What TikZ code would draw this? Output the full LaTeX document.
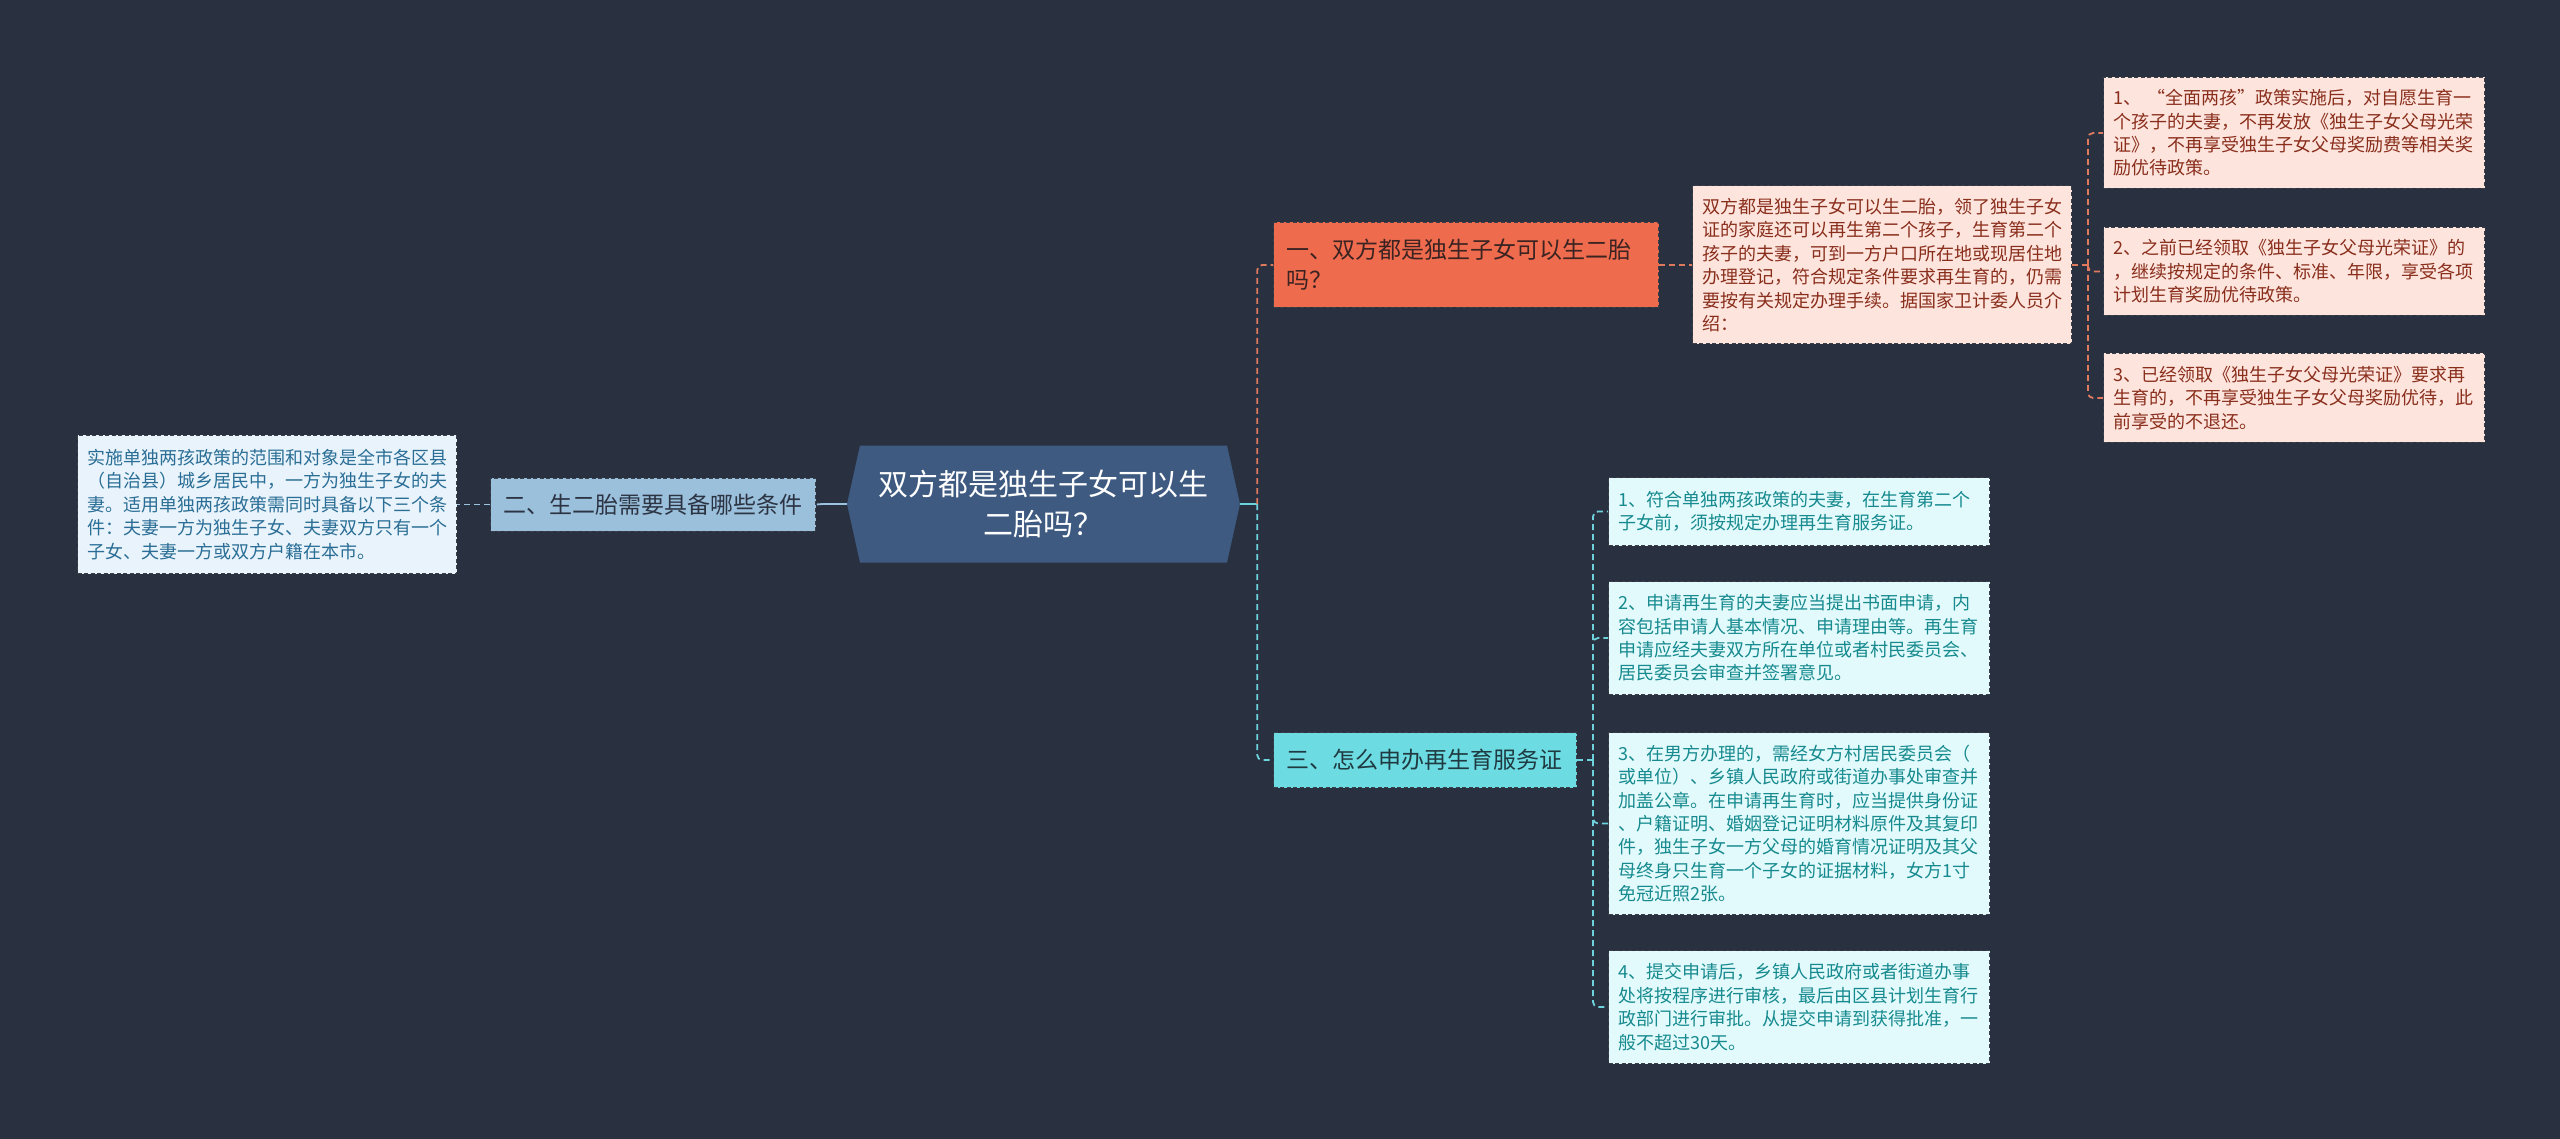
\documentclass[tikz,border=0pt]{standalone}
\usepackage{fontspec}
\setmainfont{Noto Sans CJK SC}
\usetikzlibrary{shapes.symbols}

\definecolor{bg}{HTML}{293040}
\definecolor{rootfill}{HTML}{3E5A80}
\definecolor{boxline}{HTML}{3A3F4A}
\definecolor{bluefill}{HTML}{9BC0DB}
\definecolor{bluetxt}{HTML}{2C3444}
\definecolor{paleblue}{HTML}{E9F3FB}
\definecolor{paletxt}{HTML}{2A6E96}
\definecolor{orangefill}{HTML}{EE6B4D}
\definecolor{orangetxt}{HTML}{3B2322}
\definecolor{pinkfill}{HTML}{FDE5DE}
\definecolor{pinktxt}{HTML}{8A2E1C}
\definecolor{cyanfill}{HTML}{6CDCE2}
\definecolor{cyantxt}{HTML}{1F3A40}
\definecolor{palecyan}{HTML}{E2FAFB}
\definecolor{tealtxt}{HTML}{168A8F}
\definecolor{orangeline}{HTML}{E07A5F}
\definecolor{cyanline}{HTML}{6FD3DD}
\definecolor{blueline}{HTML}{9CC3E0}

\begin{document}
\begin{tikzpicture}[x=1pt,y=-1pt,
  leaf/.style={anchor=north west,draw=boxline,line width=1pt,
    dash pattern=on 4pt off 2.5pt,inner xsep=10pt,inner ysep=0pt,
    align=left,text width=361pt,font=\fontsize{18}{23.4}\selectfont},
  branch/.style={anchor=north west,draw=boxline,line width=1pt,
    dash pattern=on 4pt off 2.5pt,inner xsep=13pt,inner ysep=0pt,
    align=left,font=\fontsize{23}{30}\selectfont},
  link/.style={line width=1.8pt,dash pattern=on 6pt off 4pt,rounded corners=5pt},
  stub/.style={line width=1.8pt,solid}]
  \def\W{2560}
  \def\H{1139}

  % 背景
  \fill[bg] (0,0) rectangle (\W,\H);
  \useasboundingbox (0,0) rectangle (\W,\H);

  % ================= 中心主题 =================
  \node[signal,signal to=east and west,signal pointer angle=155,
    fill=rootfill,text=white,minimum width=393pt,minimum height=117pt,
    inner sep=0pt,align=center,font=\fontsize{30}{40}\selectfont]
    (root) at (1043.5,504) {双方都是独生子女可以生\\二胎吗？};

  % ================= 左侧分支 =================
  \node[branch,fill=bluefill,text=bluetxt,text width=299pt,minimum height=53pt]
    (er) at (490,477.5) {二、生二胎需要具备哪些条件};
  \node[leaf,fill=paleblue,text=paletxt,text width=359pt,minimum height=138pt]
    (tiaojian) at (77,435)
    {实施单独两孩政策的范围和对象是全市各区县\\
     （自治县）城乡居民中，一方为独生子女的夫\\
     妻。适用单独两孩政策需同时具备以下三个条\\
     件：夫妻一方为独生子女、夫妻双方只有一个\\
     子女、夫妻一方或双方户籍在本市。};

  % ================= 右侧分支一 =================
  \node[branch,fill=orangefill,text=orangetxt,text width=359pt,minimum height=85pt]
    (yi) at (1273,222) {一、双方都是独生子女可以生二胎\\吗？};
  \node[leaf,fill=pinkfill,text=pinktxt,text width=359pt,minimum height=158pt]
    (shuoming) at (1692,185.5)
    {双方都是独生子女可以生二胎，领了独生子女\\
     证的家庭还可以再生第二个孩子，生育第二个\\
     孩子的夫妻，可到一方户口所在地或现居住地\\
     办理登记，符合规定条件要求再生育的，仍需\\
     要按有关规定办理手续。据国家卫计委人员介\\
     绍：};
  \node[leaf,fill=pinkfill,text=pinktxt,minimum height=111pt]
    (p1) at (2103,77)
    {1、~“全面两孩”政策实施后，对自愿生育一\\
     个孩子的夫妻，不再发放《独生子女父母光荣\\
     证》，不再享受独生子女父母奖励费等相关奖\\
     励优待政策。};
  \node[leaf,fill=pinkfill,text=pinktxt,minimum height=88pt]
    (p2) at (2103,227)
    {2、之前已经领取《独生子女父母光荣证》的\\
     ，继续按规定的条件、标准、年限，享受各项\\
     计划生育奖励优待政策。};
  \node[leaf,fill=pinkfill,text=pinktxt,minimum height=89pt]
    (p3) at (2103,353)
    {3、已经领取《独生子女父母光荣证》要求再\\
     生育的，不再享受独生子女父母奖励优待，此\\
     前享受的不退还。};

  % ================= 右侧分支三 =================
  \node[branch,fill=cyanfill,text=cyantxt,text width=277pt,minimum height=55pt]
    (san) at (1273,732) {三、怎么申办再生育服务证};
  \node[leaf,fill=palecyan,text=tealtxt,minimum height=68pt]
    (c1) at (1608,477)
    {1、符合单独两孩政策的夫妻，在生育第二个\\
     子女前，须按规定办理再生育服务证。};
  \node[leaf,fill=palecyan,text=tealtxt,minimum height=113pt]
    (c2) at (1608,581)
    {2、申请再生育的夫妻应当提出书面申请，内\\
     容包括申请人基本情况、申请理由等。再生育\\
     申请应经夫妻双方所在单位或者村民委员会、\\
     居民委员会审查并签署意见。};
  \node[leaf,fill=palecyan,text=tealtxt,minimum height=182pt]
    (c3) at (1608,732)
    {3、在男方办理的，需经女方村居民委员会（\\
     或单位）、乡镇人民政府或街道办事处审查并\\
     加盖公章。在申请再生育时，应当提供身份证\\
     、户籍证明、婚姻登记证明材料原件及其复印\\
     件，独生子女一方父母的婚育情况证明及其父\\
     母终身只生育一个子女的证据材料，女方1寸\\
     免冠近照2张。};
  \node[leaf,fill=palecyan,text=tealtxt,minimum height=113pt]
    (c4) at (1608,950)
    {4、提交申请后，乡镇人民政府或者街道办事\\
     处将按程序进行审核，最后由区县计划生育行\\
     政部门进行审批。从提交申请到获得批准，一\\
     般不超过30天。};

  % ================= 连线 =================
  \coordinate (lt) at ([xshift=-24pt]root.west);
  \coordinate (rt) at ([xshift=17pt]root.east);
  \coordinate (dt) at ([xshift=16pt]shuoming.east);
  \coordinate (st) at ([xshift=16pt]san.east);

  \draw[stub,blueline] (root.west) -- (lt);
  \draw[link,blueline] (lt) -- (er.east);
  \draw[link,blueline] (er.west) -- (tiaojian.east);

  \draw[stub,cyanline] (root.east) -- (rt);
  \draw[link,orangeline] (rt) |- (yi.west);
  \draw[link,cyanline] (rt) |- (san.west);

  \draw[link,orangeline] (yi.east) -- (shuoming.west);
  \draw[link,orangeline] (shuoming.east) -- (dt);
  \foreach \p in {p1,p2,p3}
    \draw[link,orangeline] (dt) |- (\p.west);

  \draw[link,cyanline] (san.east) -- (st);
  \foreach \c in {c1,c2,c3,c4}
    \draw[link,cyanline] (st) |- (\c.west);
\end{tikzpicture}
\end{document}
